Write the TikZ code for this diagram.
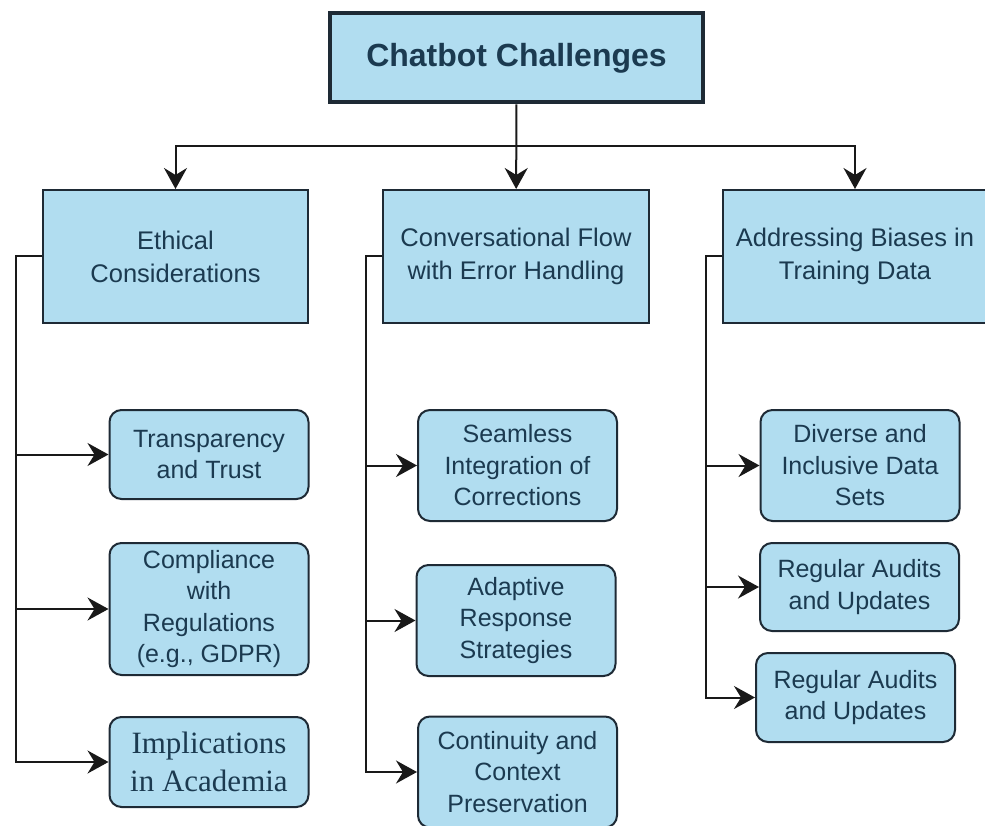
\documentclass[tikz,border=0pt]{standalone}
\usepackage{fontspec}
\setmainfont{Liberation Sans}
\newfontfamily\bookserif{Liberation Serif}
\usetikzlibrary{arrows.meta}
\definecolor{boxblue}{HTML}{B1DDF0}
\definecolor{boxline}{HTML}{1E2A35}
\definecolor{boxtext}{HTML}{1B3A50}
\begin{document}
\begin{tikzpicture}[x=1pt,y=-1pt,
    topic/.style={draw=boxline,fill=boxblue,line width=2pt,text=boxtext,align=center,inner sep=0pt,
        minimum height=133pt,font=\fontsize{25.5}{33}\selectfont},
    item/.style={draw=boxline,fill=boxblue,line width=2pt,text=boxtext,align=center,inner sep=0pt,
        rounded corners=12pt,minimum width=199pt,font=\fontsize{25}{31.5}\selectfont},
    link/.style={line width=2pt,color=black!90,-{Stealth[length=21pt,width=23pt,inset=7pt]}}]
        \useasboundingbox (0,0) rectangle (985,826);

        \node[draw=boxline,fill=boxblue,line width=4pt,text=boxtext,minimum width=373pt,minimum height=89pt,
            font=\fontsize{32}{38}\selectfont\bfseries] (title) at (516.5,58){Chatbot Challenges};

        \node[topic,minimum width=265pt] (ethics) at (175.5,256.5){Ethical\\Considerations};
        \node[topic,minimum width=266pt] (flow) at (516,256.5){Conversational Flow\\with Error Handling};
        \node[topic,minimum width=264pt] (bias) at (855,256.5){Addressing Biases in\\Training Data};

        \node[item,minimum height=89pt] (trust) at (209,454.5){Transparency\\and Trust};
        \node[item,minimum height=132pt] (gdpr) at (209,609){Compliance\\with\\Regulations\\(e.g., GDPR)};
        \node[item,minimum height=90pt,font=\fontsize{31}{38}\bookserif] (academia) at (209,762){Implications\\in Academia};

        \node[item,minimum height=111pt] (seamless) at (517.5,465.5){Seamless\\Integration of\\Corrections};
        \node[item,minimum height=111pt] (adaptive) at (516,620.5){Adaptive\\Response\\Strategies};
        \node[item,minimum height=111pt] (context) at (517.5,772){Continuity and\\Context\\Preservation};

        \node[item,minimum height=111pt] (diverse) at (860,465.5){Diverse and\\Inclusive Data\\Sets};
        \node[item,minimum height=88pt] (audits1) at (859.5,587){Regular Audits\\and Updates};
        \node[item,minimum height=89pt] (audits2) at (855.5,697.5){Regular Audits\\and Updates};

        \coordinate (split) at (516.5,146);

        \draw[link] (title) -- (flow);
        \draw[link] (split) -| (ethics);
        \draw[link] (split) -| (bias);

        \draw[link] (ethics.west) -- ++(-26,0) |- (trust.west);
        \draw[link] (ethics.west) -- ++(-26,0) |- (gdpr.west);
        \draw[link] (ethics.west) -- ++(-26,0) |- (academia.west);

        \draw[link] (flow.west) -- ++(-16,0) |- (seamless.west);
        \draw[link] (flow.west) -- ++(-16,0) |- (adaptive.west);
        \draw[link] (flow.west) -- ++(-16,0) |- (context.west);

        \draw[link] (bias.west) -- ++(-16,0) |- (diverse.west);
        \draw[link] (bias.west) -- ++(-16,0) |- (audits1.west);
        \draw[link] (bias.west) -- ++(-16,0) |- (audits2.west);
    \end{tikzpicture}
\end{document}
